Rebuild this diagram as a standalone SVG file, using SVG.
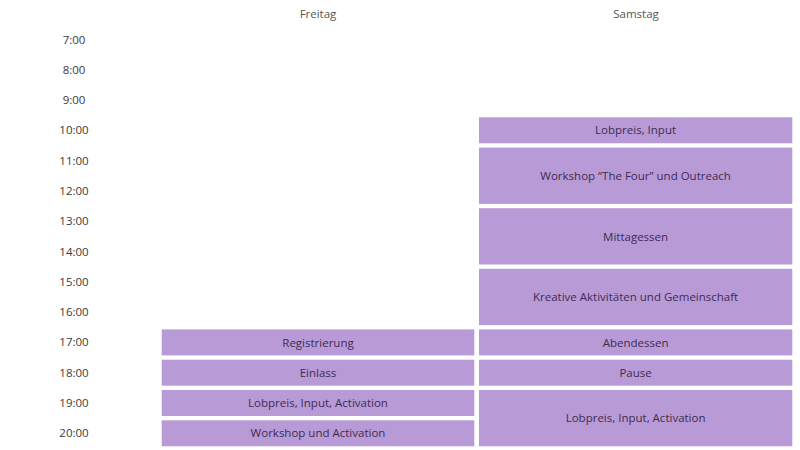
<svg xmlns="http://www.w3.org/2000/svg" width="800" height="450" viewBox="0 0 800 450">
<style>
.t{font-family:"Open Sans","Noto Sans",sans-serif;font-size:11.5px;fill:#3a3a3a;text-anchor:middle;dominant-baseline:central}
.h{font-family:"Open Sans","Noto Sans",sans-serif;font-size:11.5px;fill:#555;text-anchor:middle;dominant-baseline:central}
.b{fill:#b89bd6}
.l{font-family:"Open Sans","Noto Sans",sans-serif;font-size:11.5px;fill:#3d2b52;text-anchor:middle;dominant-baseline:central}
</style>
<rect width="800" height="450" fill="#fff"/>
<g id="headers">
<text class="h" x="318" y="13.5">Freitag</text>
<text class="h" x="636" y="13.5">Samstag</text>
</g>
<g id="times">
<text class="t" x="74" y="39.5">7:00</text>
<text class="t" x="74" y="69.5">8:00</text>
<text class="t" x="74" y="99.5">9:00</text>
<text class="t" x="74" y="129.5">10:00</text>
<text class="t" x="74" y="160.5">11:00</text>
<text class="t" x="74" y="190.5">12:00</text>
<text class="t" x="74" y="220.5">13:00</text>
<text class="t" x="74" y="251.5">14:00</text>
<text class="t" x="74" y="281.5">15:00</text>
<text class="t" x="74" y="311.5">16:00</text>
<text class="t" x="74" y="341.5">17:00</text>
<text class="t" x="74" y="372.5">18:00</text>
<text class="t" x="74" y="402.5">19:00</text>
<text class="t" x="74" y="432.5">20:00</text>
</g>
<g id="fr-registrierung"><rect class="b" x="161.7" y="329.4" width="312.6" height="26"/><text class="l" x="318" y="342">Registrierung</text></g>
<g id="fr-einlass"><rect class="b" x="161.7" y="359.7" width="312.6" height="26"/><text class="l" x="318" y="372.3">Einlass</text></g>
<g id="fr-lobpreis"><rect class="b" x="161.7" y="390" width="312.6" height="26"/><text class="l" x="318" y="402.6">Lobpreis, Input, Activation</text></g>
<g id="fr-workshop"><rect class="b" x="161.7" y="420.3" width="312.6" height="26"/><text class="l" x="318" y="432.9">Workshop und Activation</text></g>
<g id="sa-lobpreis"><rect class="b" x="479" y="117.3" width="313.3" height="26"/><text class="l" x="635.6" y="129.9">Lobpreis, Input</text></g>
<g id="sa-workshop"><rect class="b" x="479" y="147.6" width="313.3" height="56.3"/><text class="l" x="635.6" y="175.4">Workshop “The Four” und Outreach</text></g>
<g id="sa-mittagessen"><rect class="b" x="479" y="208.2" width="313.3" height="56.3"/><text class="l" x="635.6" y="236">Mittagessen</text></g>
<g id="sa-kreativ"><rect class="b" x="479" y="268.8" width="313.3" height="56.3"/><text class="l" x="635.6" y="296.6">Kreative Aktivitäten und Gemeinschaft</text></g>
<g id="sa-abendessen"><rect class="b" x="479" y="329.4" width="313.3" height="26"/><text class="l" x="635.6" y="342">Abendessen</text></g>
<g id="sa-pause"><rect class="b" x="479" y="359.7" width="313.3" height="26"/><text class="l" x="635.6" y="372.3">Pause</text></g>
<g id="sa-lobpreis2"><rect class="b" x="479" y="390" width="313.3" height="56.3"/><text class="l" x="635.6" y="417.8">Lobpreis, Input, Activation</text></g>
<g id="connectors"/>
</svg>
